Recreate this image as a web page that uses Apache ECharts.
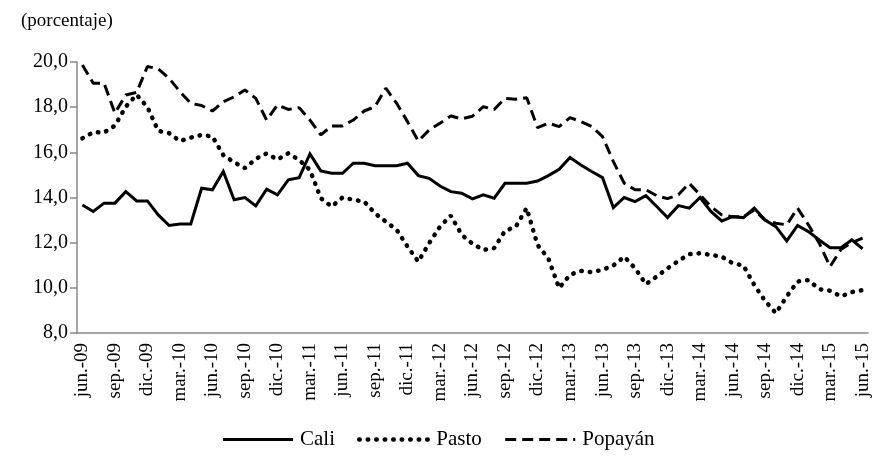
<!DOCTYPE html>
<html>
<head>
<meta charset="utf-8">
<script src="https://cdn.jsdelivr.net/npm/echarts@6/dist/echarts.min.js"></script>
<style>
html,body{margin:0;padding:0;background:#fff;}
#chart{width:876px;height:471px;}
</style>
</head>
<body>
<div id="chart"></div>
<script>
const categories = [
 'jun.-09','jul.-09','ago.-09','sep.-09','oct.-09','nov.-09','dic.-09','ene.-10','feb.-10','mar.-10','abr.-10','may.-10',
 'jun.-10','jul.-10','ago.-10','sep.-10','oct.-10','nov.-10','dic.-10','ene.-11','feb.-11','mar.-11','abr.-11','may.-11',
 'jun.-11','jul.-11','ago.-11','sep.-11','oct.-11','nov.-11','dic.-11','ene.-12','feb.-12','mar.-12','abr.-12','may.-12',
 'jun.-12','jul.-12','ago.-12','sep.-12','oct.-12','nov.-12','dic.-12','ene.-13','feb.-13','mar.-13','abr.-13','may.-13',
 'jun.-13','jul.-13','ago.-13','sep.-13','oct.-13','nov.-13','dic.-13','ene.-14','feb.-14','mar.-14','abr.-14','may.-14',
 'jun.-14','jul.-14','ago.-14','sep.-14','oct.-14','nov.-14','dic.-14','ene.-15','feb.-15','mar.-15','abr.-15','may.-15',
 'jun.-15'
];
const cali = [
 13.67,13.38,13.75,13.75,14.26,13.85,13.85,13.23,12.76,12.83,12.83,14.41,
 14.34,15.15,13.90,14.00,13.63,14.37,14.12,14.78,14.88,15.93,15.18,15.07,
 15.07,15.52,15.52,15.41,15.41,15.41,15.52,14.97,14.85,14.51,14.26,14.19,
 13.94,14.12,13.97,14.63,14.63,14.63,14.73,14.97,15.25,15.77,15.44,15.15,
 14.88,13.55,14.00,13.82,14.08,13.60,13.11,13.64,13.53,14.00,13.38,12.96,
 13.15,13.11,13.53,13.00,12.71,12.08,12.76,12.49,12.12,11.78,11.78,12.12,
 11.73
];
const pasto = [
 16.62,16.89,16.88,17.18,18.02,18.55,18.00,16.95,16.85,16.50,16.65,16.77,
 16.70,15.88,15.56,15.30,15.71,15.95,15.68,15.96,15.66,15.22,13.97,13.60,
 14.00,13.90,13.82,13.30,12.93,12.57,11.83,11.16,11.98,12.71,13.20,12.35,
 11.95,11.68,11.76,12.52,12.71,13.53,11.90,11.30,9.99,10.58,10.75,10.69,
 10.80,10.99,11.38,10.87,10.16,10.50,10.87,11.19,11.49,11.53,11.46,11.38,
 11.09,10.99,10.13,9.42,8.88,9.62,10.28,10.34,9.94,9.87,9.62,9.81,
 9.90
];
const popayan = [
 19.87,19.06,19.06,17.73,18.54,18.65,19.80,19.70,19.28,18.69,18.17,18.07,
 17.83,18.24,18.46,18.76,18.39,17.43,18.10,17.90,17.98,17.43,16.77,17.17,
 17.17,17.43,17.83,18.02,18.84,18.17,17.36,16.50,16.99,17.29,17.61,17.48,
 17.60,18.02,17.90,18.39,18.35,18.42,17.09,17.29,17.14,17.54,17.36,17.14,
 16.70,15.59,14.63,14.34,14.34,14.08,13.95,14.12,14.63,14.12,13.60,13.23,
 13.15,13.15,13.45,13.00,12.86,12.79,13.53,12.79,11.98,10.94,11.70,12.00,
 12.20
];
const seriesNames = ['Cali','Pasto','Popayán'];
const yTicks = {min: 8, max: 20, interval: 2};

const font = 'Liberation Serif';
const styles = [
  {color: '#000', width: 3, type: 'solid'},
  {color: '#000', width: 4.5, type: [0.5, 8], cap: 'round'},
  {color: '#000', width: 3, type: [11, 6]}
];
const chart = echarts.init(document.getElementById('chart'), null, {renderer: 'canvas'});
chart.setOption({
  animation: false,
  backgroundColor: '#fff',
  title: {
    text: '(porcentaje)', left: 16, top: 7,
    textStyle: {fontFamily: font, fontSize: 19, fontWeight: 'normal', color: '#000'}
  },
  grid: {left: 77, right: 8, top: 62, bottom: 138},
  legend: {
    bottom: 16, left: 'center', itemWidth: 70, itemHeight: 12, itemGap: 22,
    itemStyle: {opacity: 0},
    textStyle: {fontFamily: font, fontSize: 21, color: '#000', padding: [0, 0, 0, 2]},
    data: seriesNames.map((n, i) => ({name: n, lineStyle: styles[i]}))
  },
  xAxis: {
    type: 'category', data: categories, boundaryGap: true,
    axisLine: {lineStyle: {color: '#888', width: 1.5}},
    axisTick: {interval: 2, length: 6, lineStyle: {color: '#888', width: 1.5}},
    axisLabel: {interval: 2, rotate: 90, fontFamily: font, fontSize: 19, color: '#000', margin: 10}
  },
  yAxis: {
    type: 'value', min: yTicks.min, max: yTicks.max, interval: yTicks.interval,
    axisLine: {show: true, lineStyle: {color: '#888', width: 1.5}},
    axisTick: {show: true, length: 7, lineStyle: {color: '#888', width: 1.5}},
    splitLine: {show: false},
    axisLabel: {fontFamily: font, fontSize: 20, color: '#000', margin: 9,
      formatter: v => v.toFixed(1).replace('.', ',')}
  },
  series: [
    {name: seriesNames[0], type: 'line', data: cali, symbol: 'none', color: '#000',
     lineStyle: Object.assign({join: 'miter'}, styles[0])},
    {name: seriesNames[1], type: 'line', data: pasto, symbol: 'none', color: '#000',
     lineStyle: styles[1]},
    {name: seriesNames[2], type: 'line', data: popayan, symbol: 'none', color: '#000',
     lineStyle: styles[2]}
  ]
});
</script>
</body>
</html>
